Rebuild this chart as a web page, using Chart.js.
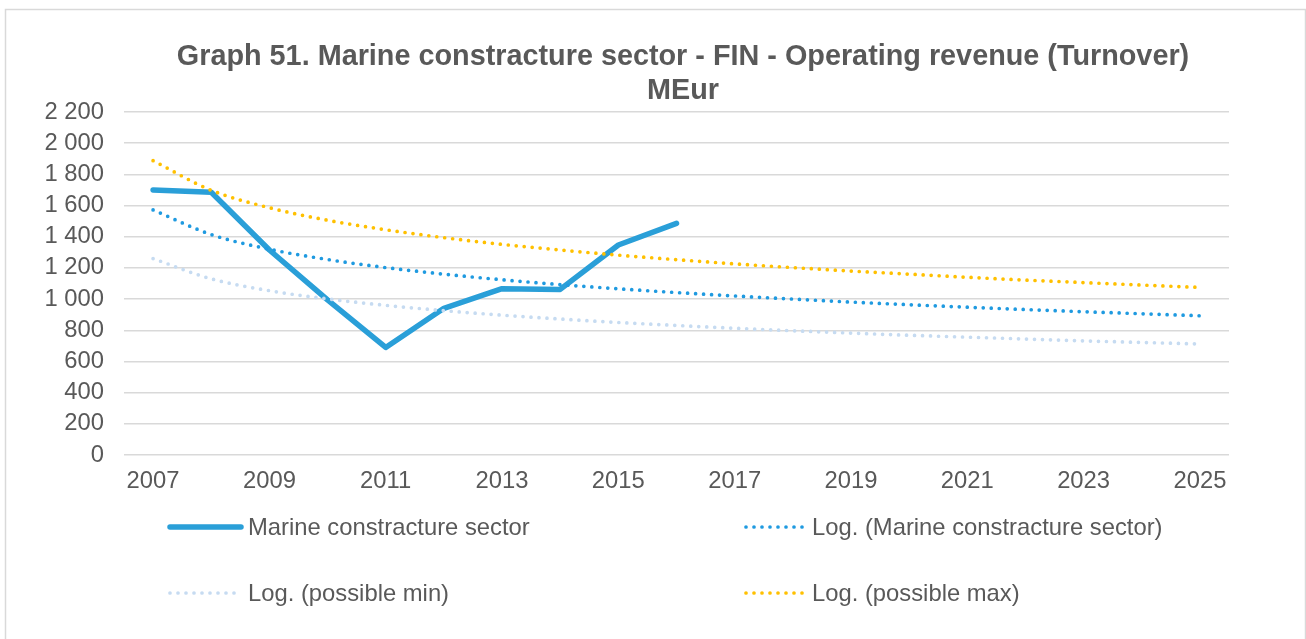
<!DOCTYPE html>
<html>
<head>
<meta charset="utf-8">
<title>Marine constracture sector - FIN - Operating revenue</title>
<script src="https://cdn.jsdelivr.net/npm/chart.js@4/dist/chart.umd.min.js"></script>
<style>
  html, body { margin: 0; padding: 0; background: #ffffff; }
  canvas { display: block; }
</style>
</head>
<body>
<canvas id="chart" width="1306" height="639"></canvas>
<script>
// Years on the category axis (2007 - 2025)
const years = ['2007','2008','2009','2010','2011','2012','2013','2014','2015','2016',
               '2017','2018','2019','2020','2021','2022','2023','2024','2025'];

// Operating revenue, MEur (actuals 2007 - 2016)
const turnover = [1700, 1685, 1315, 995, 690, 941, 1067, 1062, 1347, 1486];

// Logarithmic trend of the actuals, per year
const trendMarine = [1572, 1414, 1320, 1254, 1202, 1160, 1124, 1093, 1066, 1042,
                     1020, 1000, 981, 964, 948, 933, 919, 906, 893];

// Logarithmic trend, possible minimum, per year
const trendMin = [1260, 1130, 1054, 1001, 960, 926, 897, 872, 850, 831,
                  813, 797, 782, 768, 756, 744, 732, 722, 712];

// Logarithmic trend, possible maximum, per year
const trendMax = [1888, 1698, 1586, 1506, 1445, 1394, 1351, 1315, 1282, 1253,
                  1226, 1202, 1180, 1160, 1140, 1122, 1106, 1090, 1075];

const titleLines = ['Graph 51. Marine constracture sector - FIN - Operating revenue (Turnover)', 'MEur'];

const FONT = '"Liberation Sans", Arial, Helvetica, sans-serif';
const TEXT = '#595959';
const SIZE = 23.8;

function spaced(v) {
  return String(v).replace(/\B(?=(\d{3})+(?!\d))/g, ' ');
}

// Frame, title and two-column legend drawn around the plot
const decorations = {
  id: 'decorations',
  beforeDraw(chart) {
    const c = chart.ctx;
    c.save();
    c.fillStyle = '#ffffff';
    c.fillRect(0, 0, chart.width, chart.height);
    c.strokeStyle = '#d9d9d9';
    c.lineWidth = 1.5;
    c.strokeRect(5.5, 9.5, 1300, 700);
    c.restore();
  },
  afterDraw(chart) {
    const c = chart.ctx;
    c.save();
    // title
    c.fillStyle = TEXT;
    c.font = 'bold 28.8px ' + FONT;
    c.textAlign = 'center';
    c.textBaseline = 'alphabetic';
    c.fillText(titleLines[0], 683, 64.5);
    c.fillText(titleLines[1], 683, 98.5);

    // legend
    const slots = [
      { x0: 170, x1: 241, tx: 248, y: 527 },
      { x0: 746, x1: 805, tx: 812, y: 527 },
      { x0: 170, x1: 238, tx: 248, y: 593 },
      { x0: 746, x1: 805, tx: 812, y: 593 }
    ];
    chart.data.datasets.forEach((ds, i) => {
      const s = slots[i];
      c.beginPath();
      c.strokeStyle = ds.borderColor;
      c.lineWidth = ds.borderWidth;
      c.lineCap = 'round';
      c.setLineDash(ds.borderDash || []);
      c.moveTo(s.x0, s.y);
      c.lineTo(s.x1, s.y);
      c.stroke();
      c.setLineDash([]);
      c.fillStyle = TEXT;
      c.font = SIZE + 'px ' + FONT;
      c.textAlign = 'left';
      c.textBaseline = 'middle';
      c.fillText(ds.label, s.tx, s.y + 1.5);
    });
    c.restore();
  }
};

new Chart(document.getElementById('chart'), {
  type: 'line',
  data: {
    labels: years,
    datasets: [
      {
        label: 'Marine constracture sector',
        data: turnover,
        borderColor: '#2a9fd8',
        borderWidth: 5.5,
        borderCapStyle: 'round',
        borderJoinStyle: 'round',
        pointRadius: 0,
        tension: 0,
        order: 5
      },
      {
        label: 'Log. (Marine constracture sector)',
        data: trendMarine,
        borderColor: '#1f9ae0',
        borderWidth: 3.7,
        borderDash: [0, 8],
        borderCapStyle: 'round',
        pointRadius: 0,
        cubicInterpolationMode: 'monotone',
        order: 2
      },
      {
        label: 'Log. (possible min)',
        data: trendMin,
        borderColor: '#c6dbf1',
        borderWidth: 3.7,
        borderDash: [0, 8],
        borderCapStyle: 'round',
        pointRadius: 0,
        cubicInterpolationMode: 'monotone',
        order: 3
      },
      {
        label: 'Log. (possible max)',
        data: trendMax,
        borderColor: '#ffc000',
        borderWidth: 3.7,
        borderDash: [0, 8],
        borderCapStyle: 'round',
        pointRadius: 0,
        cubicInterpolationMode: 'monotone',
        order: 1
      }
    ]
  },
  options: {
    responsive: false,
    animation: false,
    layout: { padding: { top: 112, right: 77, bottom: 0, left: 0 } },
    plugins: {
      legend: { display: false },
      title: { display: false },
      tooltip: { enabled: false }
    },
    scales: {
      x: {
        offset: true,
        grid: { display: false, drawTicks: false },
        border: { display: false },
        ticks: {
          autoSkip: false,
          maxRotation: 0,
          padding: 12,
          color: TEXT,
          font: { family: FONT, size: SIZE },
          callback: function (value, index) {
            return index % 2 === 0 ? this.getLabelForValue(value) : '';
          }
        },
        afterFit: (scale) => { scale.height = 184; }
      },
      y: {
        min: 0,
        max: 2200,
        grid: { color: '#d9d9d9', lineWidth: 1.5, drawTicks: false },
        border: { display: false },
        ticks: {
          stepSize: 200,
          autoSkip: false,
          padding: 20,
          color: TEXT,
          font: { family: FONT, size: SIZE },
          callback: (v) => spaced(v)
        },
        afterFit: (scale) => { scale.width = 124; }
      }
    }
  },
  plugins: [decorations]
});
</script>
</body>
</html>
